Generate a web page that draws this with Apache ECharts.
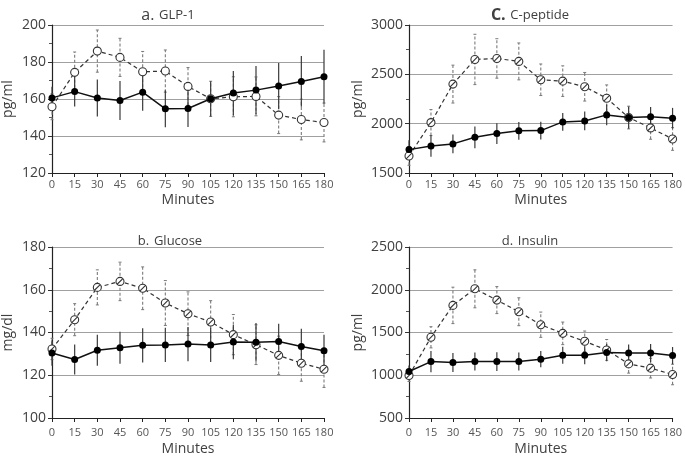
<!DOCTYPE html>
<html>
<head>
<meta charset="utf-8">
<script src="https://cdn.jsdelivr.net/npm/echarts@6/dist/echarts.min.js"></script>
<style>html,body{margin:0;padding:0;background:#fff}#c{width:685px;height:463px}</style>
</head>
<body>
<div id="c"></div>
<script>
var minutes = [0, 15, 30, 45, 60, 75, 90, 105, 120, 135, 150, 165, 180];

var glpSolid = [160.6, 164.0, 160.5, 159.2, 163.7, 154.7, 154.9, 160.1, 163.2, 164.8, 167.0, 169.5, 172.0];
var glpSolidErr = [6, 8, 10, 10.5, 10, 10, 10, 9.5, 12, 13, 12.5, 13.7, 14.6];
var glpDash = [155.8, 174.4, 185.9, 182.5, 174.7, 175.1, 166.8, 160.1, 161.2, 161.4, 151.3, 148.9, 147.3];
var glpDashErr = [7, 11, 11.4, 10.3, 11, 11.4, 10.2, 9.5, 10.8, 10.5, 10, 11, 10.5];

var gluSolid = [130.4, 127.4, 131.7, 132.9, 134.0, 134.2, 134.6, 134.2, 135.5, 135.4, 135.8, 133.5, 131.5];
var gluSolidErr = [6, 7, 7.3, 7.5, 8, 8, 8, 8, 8, 9, 8.3, 8.3, 7.5];
var gluDash = [132.3, 146.0, 161.1, 163.9, 160.7, 153.8, 148.8, 144.9, 139.0, 134.3, 129.3, 125.6, 122.8];
var gluDashErr = [5, 7.5, 8.2, 9, 10, 10.5, 10.2, 10, 9.4, 9.3, 9, 8.4, 8.5];

var cpepSolid = [1737, 1774, 1795, 1862, 1900, 1927, 1930, 2018, 2028, 2089, 2062, 2069, 2055];
var cpepSolidErr = [95, 110, 95, 110, 105, 90, 90, 90, 95, 105, 110, 100, 105];
var cpepDash = [1673, 2011, 2401, 2651, 2661, 2631, 2445, 2431, 2374, 2258, 2062, 1957, 1845];
var cpepDashErr = [95, 132, 192, 255, 200, 187, 160, 155, 145, 135, 115, 115, 115];

var insSolid = [1044, 1160, 1149, 1160, 1160, 1160, 1188, 1234, 1234, 1265, 1261, 1261, 1230];
var insSolidErr = [70, 125, 110, 105, 110, 105, 95, 100, 105, 100, 100, 105, 100];
var insDash = [997, 1444, 1817, 2011, 1879, 1743, 1591, 1490, 1397, 1296, 1133, 1083, 1009];
var insDashErr = [70, 124, 213, 222, 158, 163, 148, 132, 120, 122, 108, 115, 120];

var panelTitles = [['a.', 'GLP-1'], ['C.', 'C-peptide'], ['b.', 'Glucose'], ['d.', 'Insulin']];
var yNames = ['pg/ml', 'pg/ml', 'mg/dl', 'pg/ml'];
var xName = 'Minutes';

var FONT = 'Open Sans';
var slashSym = 'path://M0,10 A10,10 0 1,1 20,10 A10,10 0 1,1 0,10 Z M3.5,16.5 L16.5,3.5';

var panels = [
  {solid: glpSolid, se: glpSolidErr, dash: glpDash, de: glpDashErr, min: 120, max: 200, interval: 20, grid: {left: 52, top: 25, width: 272, height: 148}, sym: 'circle', tx: 163, ty: 1, nameGap: 37, xLabelMargin: 6, xNameGap: 20, lead: 16, leadBold: false},
  {solid: cpepSolid, se: cpepSolidErr, dash: cpepDash, de: cpepDashErr, min: 1500, max: 3000, interval: 500, grid: {left: 409, top: 25, width: 266, height: 148}, sym: slashSym, tx: 525, ty: 1, nameGap: 44, xLabelMargin: 6, xNameGap: 20, lead: 16, leadBold: true},
  {solid: gluSolid, se: gluSolidErr, dash: gluDash, de: gluDashErr, min: 100, max: 180, interval: 20, grid: {left: 52, top: 247, width: 272, height: 171}, sym: slashSym, tx: 165, ty: 227, nameGap: 37, xLabelMargin: 9, xNameGap: 24, lead: 13, leadBold: false},
  {solid: insSolid, se: insSolidErr, dash: insDash, de: insDashErr, min: 500, max: 2500, interval: 500, grid: {left: 409, top: 247, width: 266, height: 171}, sym: slashSym, tx: 525, ty: 227, nameGap: 44, xLabelMargin: 9, xNameGap: 24, lead: 13, leadBold: false}
];

function errData(vals, errs) {
  return minutes.map(function (m, i) { return [m, vals[i] - errs[i], vals[i] + errs[i]]; });
}
function pts(vals) {
  return minutes.map(function (m, i) { return [m, vals[i]]; });
}
function errRender(dashed) {
  return function (params, api) {
    var x = api.value(0);
    var lo = api.coord([x, api.value(1)]);
    var hi = api.coord([x, api.value(2)]);
    var style = {stroke: dashed ? '#7a7a7a' : '#3a3a3a', lineWidth: dashed ? 1.1 : 1.2, lineDash: dashed ? [3, 2] : null};
    var children = [{type: 'line', shape: {x1: lo[0], y1: lo[1], x2: hi[0], y2: hi[1]}, style: style}];
    if (dashed) {
      children.push({type: 'line', shape: {x1: hi[0] - 1.5, y1: hi[1], x2: hi[0] + 1.5, y2: hi[1]}, style: {stroke: '#7a7a7a', lineWidth: 1}});
      children.push({type: 'line', shape: {x1: lo[0] - 1.5, y1: lo[1], x2: lo[0] + 1.5, y2: lo[1]}, style: {stroke: '#7a7a7a', lineWidth: 1}});
    }
    return {type: 'group', children: children};
  };
}

var option = {
  animation: false,
  backgroundColor: '#fff',
  title: [], grid: [], xAxis: [], yAxis: [], series: []
};

panels.forEach(function (p, k) {
  option.title.push({
    text: '{p|' + panelTitles[k][0] + '} {q|' + panelTitles[k][1] + '}',
    left: p.tx, top: p.ty, textAlign: 'center',
    textStyle: {fontWeight: 'normal', fontFamily: FONT, color: '#404040', rich: {
      p: {fontFamily: FONT, fontSize: p.lead, color: '#404040', fontWeight: p.leadBold ? 'bold' : 'normal'},
      q: {fontFamily: FONT, fontSize: 13, color: '#404040', fontWeight: 'normal'}
    }}
  });
  option.grid.push(p.grid);
  option.xAxis.push({
    type: 'value', gridIndex: k, min: 0, max: 180, interval: 15,
    name: xName, nameLocation: 'middle', nameGap: p.xNameGap,
    nameTextStyle: {fontFamily: FONT, fontSize: 14, color: '#404040'},
    axisLine: {show: true, onZero: false, lineStyle: {color: '#222', width: 1.2}},
    axisTick: {show: true, length: 4, lineStyle: {color: '#222'}},
    axisLabel: {fontFamily: FONT, fontSize: 11, color: '#555', margin: p.xLabelMargin},
    splitLine: {show: false}
  });
  option.yAxis.push({
    type: 'value', gridIndex: k, min: p.min, max: p.max, interval: p.interval,
    name: yNames[k], nameLocation: 'middle', nameGap: p.nameGap, nameRotate: 90,
    nameTextStyle: {fontFamily: FONT, fontSize: 14, color: '#404040'},
    axisLine: {show: true, lineStyle: {color: '#222', width: 1.2}},
    axisTick: {show: true, length: 4, lineStyle: {color: '#333'}},
    minorTick: {show: true, splitNumber: 2, length: 3, lineStyle: {color: '#555'}},
    axisLabel: {fontFamily: FONT, fontSize: 14, color: '#404040', margin: 6, formatter: function (v) { return String(v); }},
    splitLine: {show: true, lineStyle: {color: '#a0a0a0', width: 1}}
  });
  option.series.push({
    type: 'custom', xAxisIndex: k, yAxisIndex: k, z: 1,
    renderItem: errRender(true), data: errData(p.dash, p.de)
  });
  option.series.push({
    type: 'custom', xAxisIndex: k, yAxisIndex: k, z: 2,
    renderItem: errRender(false), data: errData(p.solid, p.se)
  });
  option.series.push({
    type: 'line', xAxisIndex: k, yAxisIndex: k, z: 3,
    data: pts(p.dash), symbol: p.sym, symbolSize: 8,
    lineStyle: {color: '#333', width: 1.2, type: [4, 3]},
    itemStyle: {color: '#fff', borderColor: '#333', borderWidth: 1.1}
  });
  option.series.push({
    type: 'line', xAxisIndex: k, yAxisIndex: k, z: 4,
    data: pts(p.solid), symbol: 'circle', symbolSize: 7,
    lineStyle: {color: '#111', width: 1.5},
    itemStyle: {color: '#000', borderColor: '#000', borderWidth: 0}
  });
});

var chart = echarts.init(document.getElementById('c'), null, {renderer: 'canvas'});
chart.setOption(option);
</script>
</body>
</html>
